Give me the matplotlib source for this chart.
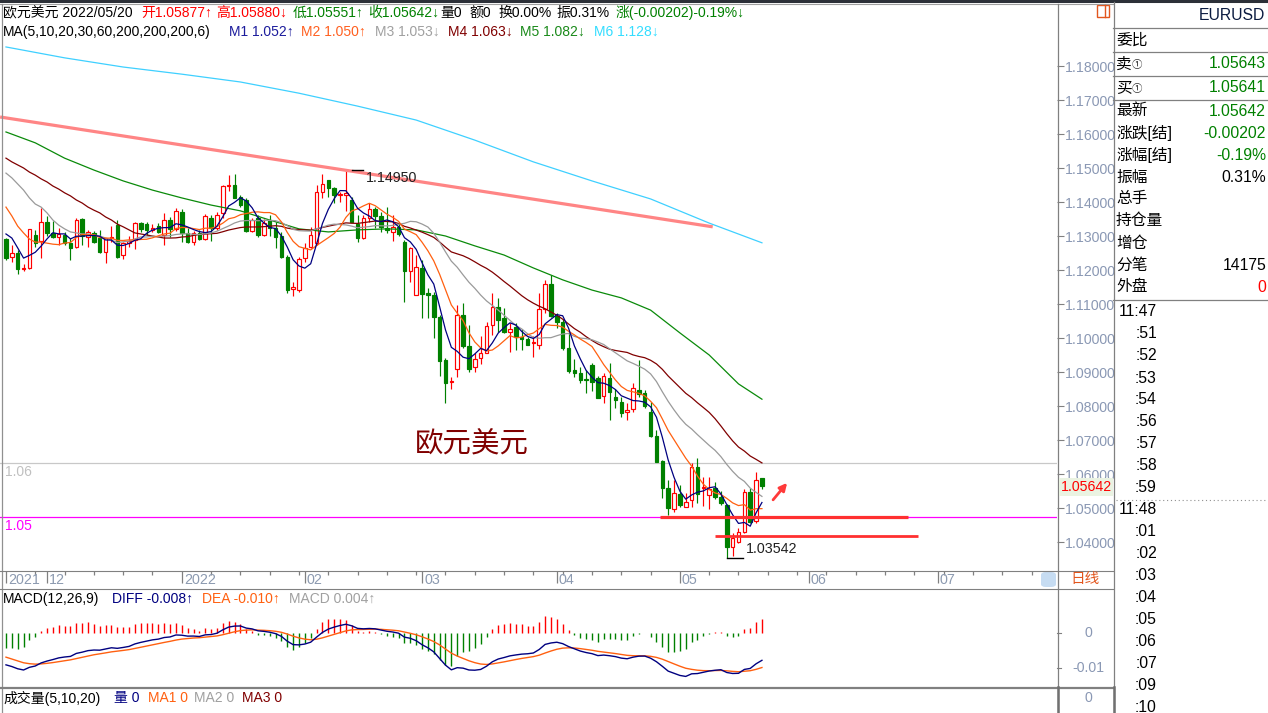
import numpy as np
import pandas as pd
import matplotlib
matplotlib.use("Agg")
import matplotlib.pyplot as plt
from matplotlib.patches import Rectangle, FancyBboxPatch
from matplotlib.lines import Line2D

plt.rcParams['font.family'] = ['Liberation Sans', 'Noto Sans CJK SC', 'DejaVu Sans']

# ---------------- data (EURUSD daily) ----------------
start_date = "2021-11-22"

opens = [
    1.1291, 1.1237, 1.1251, 1.1203, 1.1207, 1.1303, 1.1285, 1.1340, 1.1308, 1.1298,
    1.1303, 1.1280, 1.1267, 1.1349, 1.1298, 1.1308, 1.1293, 1.1254, 1.1293, 1.1332,
    1.1244, 1.1280, 1.1288, 1.1337, 1.1334, 1.1319, 1.1329, 1.1303, 1.1347, 1.1321,
    1.1371, 1.1309, 1.1282, 1.1309, 1.1291, 1.1353, 1.1324, 1.1368, 1.1447, 1.1450,
    1.1415, 1.1406, 1.1315, 1.1353, 1.1303, 1.1347, 1.1324, 1.1300, 1.1238, 1.1144,
    1.1141, 1.1235, 1.1268, 1.1279, 1.1429, 1.1465, 1.1441, 1.1421, 1.1421, 1.1406,
    1.1335, 1.1294, 1.1353, 1.1379, 1.1359, 1.1324, 1.1312, 1.1327, 1.1282, 1.1197,
    1.1127, 1.1206, 1.1132, 1.1127, 1.1062, 1.0935, 1.0871, 1.0909, 1.1068, 1.0976,
    1.0915, 1.0941, 1.0956, 1.1038, 1.1091, 1.1059, 1.1018, 1.1032, 1.1003, 1.0997,
    1.0985, 1.0979, 1.1085, 1.1159, 1.1065, 1.1047, 1.0971, 1.0906, 1.0897, 1.0879,
    1.0921, 1.0882, 1.0829, 1.0882, 1.0826, 1.0812, 1.0782, 1.0791, 1.0847, 1.0838,
    1.0782, 1.0712, 1.0638, 1.0559, 1.0497, 1.0541, 1.0503, 1.0524, 1.0621, 1.0559,
    1.0538, 1.0559, 1.0532, 1.0509, 1.0385, 1.0400, 1.0429, 1.0547, 1.0462, 1.05877,
]
highs = [
    1.1293, 1.1273, 1.1259, 1.1217, 1.1322, 1.1318, 1.1381, 1.1359, 1.1345, 1.1325,
    1.1313, 1.1293, 1.1354, 1.1352, 1.1318, 1.1315, 1.1319, 1.1293, 1.1329, 1.1347,
    1.1283, 1.1300, 1.1342, 1.1342, 1.1342, 1.1334, 1.1337, 1.1368, 1.1356, 1.1382,
    1.1379, 1.1324, 1.1315, 1.1318, 1.1365, 1.1362, 1.1371, 1.1450, 1.1479, 1.1482,
    1.1421, 1.1412, 1.1353, 1.1362, 1.1350, 1.1362, 1.1341, 1.1312, 1.1244, 1.1165,
    1.1238, 1.1279, 1.1327, 1.1450, 1.1482, 1.1465, 1.1444, 1.1429, 1.1495, 1.1415,
    1.1362, 1.1362, 1.1397, 1.1385, 1.1371, 1.1385, 1.1362, 1.1338, 1.1288, 1.1268,
    1.1244, 1.1229, 1.1147, 1.1135, 1.1068, 1.0941, 1.0885, 1.1097, 1.1103, 1.1038,
    1.0956, 1.1006, 1.1047, 1.1132, 1.1118, 1.1088, 1.1044, 1.1044, 1.1026, 1.1003,
    1.1006, 1.1132, 1.1171, 1.1185, 1.1074, 1.1056, 1.1018, 1.0938, 1.0915, 1.0906,
    1.0926, 1.0888, 1.0897, 1.0926, 1.0850, 1.0826, 1.0809, 1.0868, 1.0935, 1.0847,
    1.0812, 1.0729, 1.0641, 1.0582, 1.0582, 1.0568, 1.0544, 1.0632, 1.0647, 1.0591,
    1.0591, 1.0576, 1.0550, 1.0512, 1.0426, 1.0441, 1.0556, 1.0559, 1.0606, 1.05880,
]
lows = [
    1.1229, 1.1224, 1.1188, 1.1197, 1.1202, 1.1268, 1.1236, 1.1300, 1.1293, 1.1273,
    1.1275, 1.1229, 1.1264, 1.1273, 1.1268, 1.1280, 1.1251, 1.1221, 1.1283, 1.1234,
    1.1231, 1.1268, 1.1262, 1.1313, 1.1303, 1.1313, 1.1308, 1.1274, 1.1297, 1.1315,
    1.1282, 1.1279, 1.1274, 1.1288, 1.1288, 1.1285, 1.1318, 1.1353, 1.1432, 1.1412,
    1.1385, 1.1312, 1.1312, 1.1297, 1.1300, 1.1300, 1.1265, 1.1235, 1.1132, 1.1124,
    1.1135, 1.1224, 1.1265, 1.1274, 1.1412, 1.1415, 1.1397, 1.1400, 1.1374, 1.1341,
    1.1282, 1.1291, 1.1341, 1.1324, 1.1312, 1.1309, 1.1285, 1.1300, 1.1106, 1.1165,
    1.1127, 1.1059, 1.1059, 1.1000, 1.0888, 1.0809, 1.0850, 1.0885, 1.0971, 1.0900,
    1.0900, 1.0924, 1.0956, 1.1009, 1.1018, 1.1015, 1.0959, 1.0965, 1.0965, 1.0979,
    1.0944, 1.0968, 1.1074, 1.1062, 1.1029, 1.0965, 1.0897, 1.0885, 1.0868, 1.0838,
    1.0844, 1.0824, 1.0809, 1.0759, 1.0794, 1.0768, 1.0759, 1.0782, 1.0826, 1.0794,
    1.0709, 1.0635, 1.0529, 1.0479, 1.0488, 1.0503, 1.0503, 1.0503, 1.0515, 1.0506,
    1.0497, 1.0526, 1.0509, 1.03542, 1.0360, 1.0397, 1.0426, 1.0456, 1.0456, 1.05551,
]
closes = [
    1.1234, 1.1249, 1.1203, 1.1207, 1.1322, 1.1280, 1.1340, 1.1308, 1.1298, 1.1305,
    1.1280, 1.1266, 1.1347, 1.1300, 1.1312, 1.1283, 1.1254, 1.1293, 1.1298, 1.1237,
    1.1278, 1.1285, 1.1339, 1.1320, 1.1318, 1.1325, 1.1313, 1.1347, 1.1321, 1.1374,
    1.1309, 1.1282, 1.1309, 1.1291, 1.1359, 1.1324, 1.1362, 1.1447, 1.1450, 1.1412,
    1.1391, 1.1315, 1.1347, 1.1303, 1.1338, 1.1324, 1.1297, 1.1238, 1.1141, 1.1150,
    1.1233, 1.1265, 1.1303, 1.1429, 1.1453, 1.1441, 1.1421, 1.1424, 1.1427, 1.1341,
    1.1294, 1.1353, 1.1379, 1.1359, 1.1327, 1.1318, 1.1327, 1.1306, 1.1197, 1.1265,
    1.1209, 1.1130, 1.1127, 1.1062, 1.0932, 1.0868, 1.0874, 1.1068, 1.0976, 1.0909,
    1.0938, 1.0956, 1.1035, 1.1091, 1.1053, 1.1018, 1.1026, 1.1003, 1.0997, 1.0979,
    1.0988, 1.1085, 1.1159, 1.1065, 1.1047, 1.0971, 1.0903, 1.0897, 1.0876, 1.0876,
    1.0871, 1.0824, 1.0888, 1.0841, 1.0818, 1.0780, 1.0788, 1.0853, 1.0835, 1.0800,
    1.0712, 1.0635, 1.0559, 1.0500, 1.0544, 1.0509, 1.0518, 1.0621, 1.0541, 1.0562,
    1.0556, 1.0532, 1.0515, 1.0385, 1.0412, 1.0429, 1.0547, 1.0459, 1.0582, 1.05642,
]

# MA values at the left edge (before enough bars are visible)
ma5_head = [1.1306, 1.1294, 1.1265, 1.1235]
ma10_head = [1.1385, 1.1359, 1.1329, 1.1309, 1.1291, 1.1282, 1.1282, 1.1279, 1.1276]
ma20_head = [1.1485, 1.1471, 1.1453, 1.1435, 1.1412, 1.1394, 1.1385, 1.1368, 1.1347, 1.1332,
             1.1321, 1.1312, 1.1309, 1.1306, 1.1306, 1.1303, 1.1300, 1.1294, 1.1288]
ma30_head = [1.1529, 1.1518, 1.1509, 1.1500, 1.1488, 1.1479, 1.1468, 1.1459, 1.1447, 1.1438,
             1.1427, 1.1418, 1.1406, 1.1397, 1.1385, 1.1376, 1.1368, 1.1356, 1.1347, 1.1335,
             1.1327, 1.1318, 1.1309, 1.1306, 1.1303, 1.1300, 1.1297, 1.1294, 1.1294]
ma60_idx = [0, 5, 10, 15, 20, 25, 30, 35, 40, 45, 50, 55, 60, 65, 70, 75, 80, 85, 90, 95,
            100, 105, 110, 115, 120, 125, 129]
ma60_val = [1.1606, 1.1574, 1.1529, 1.1494, 1.1462, 1.1435, 1.1412, 1.1391, 1.1374, 1.1347,
            1.1321, 1.1312, 1.1318, 1.1321, 1.1318, 1.1300, 1.1271, 1.1244, 1.1206, 1.1171,
            1.1141, 1.1118, 1.1082, 1.1015, 1.0950, 1.0865, 1.0820]
ma200_idx = [0, 10, 20, 30, 40, 50, 60, 70, 80, 90, 100, 110, 120, 129]
ma200_val = [1.1856, 1.1824, 1.1797, 1.1776, 1.1753, 1.1720, 1.1682, 1.1641, 1.1582, 1.1518,
             1.1462, 1.1409, 1.1338, 1.1280]

# MACD state at the first bar (estimated)
ema12_start, ema26_start, dea_start = 1.1394, 1.1485, -0.0069

# drawn objects
trend_x = [-1.0, 120.6]
trend_p = [1.1650, 1.1327]
support1_x, support1_p = [111.6, 153.9], 1.0474
support2_x, support2_p = [121.0, 155.6], 1.0418
hline_gray_p, hline_mag_p = 1.0632, 1.0474
arrow_from, arrow_to = (130.9, 1.0524), (133.3, 1.0574)
high_label, low_label = "1.14950", "1.03542"
title_pos = (79.5, 1.0688)

# ---------------- derived ----------------
n = len(closes)
o, h, l, c = map(np.array, (opens, highs, lows, closes))
xi = np.arange(n)
cs = pd.Series(closes)


def ma_with_head(k, head):
    r = cs.rolling(k).mean().to_numpy()
    r[:k - 1] = head
    return r


ma5 = ma_with_head(5, ma5_head)
ma10 = ma_with_head(10, ma10_head)
ma20 = ma_with_head(20, ma20_head)
ma30 = ma_with_head(30, ma30_head)


def ema_series(vals, span, first):
    a = 2.0 / (span + 1)
    out = np.empty(len(vals))
    e = first
    out[0] = first
    for k in range(1, len(vals)):
        e = e + a * (vals[k] - e)
        out[k] = e
    return out


ema12 = ema_series(c, 12, ema12_start)
ema26 = ema_series(c, 26, ema26_start)
diff = ema12 - ema26
dea = ema_series(diff, 9, dea_start)
hist = 2 * (diff - dea)

all_dates = pd.bdate_range(start_date, periods=182)

# ---------------- figure ----------------
W, H = 1268, 713
fig = plt.figure(figsize=(W / 100, H / 100), dpi=100)
fig.patch.set_facecolor('white')


def add_ax(x0, y0, x1, y1):
    a = fig.add_axes([x0 / W, 1 - y1 / H, (x1 - x0) / W, (y1 - y0) / H])
    a.set_facecolor('none')
    return a


def ftext(x, y, s, color='black', size=10.3, ha='left', va='center', **kw):
    return fig.text(x / W, 1 - y / H, s, color=color, fontsize=size, ha=ha, va=va, **kw)


def fline(xs, ys, color='#808080', lw=0.8, **kw):
    fig.add_artist(Line2D([x / W for x in xs], [1 - y / H for y in ys], color=color, lw=lw, **kw))


RED = '#ff0000'
GREEN = '#008000'
XL = (-1.02, 179.35)

# main price axes
ax = add_ax(0, 4, 1057, 570)
ax.set_xlim(*XL)
ax.set_ylim(1.199412 - 570 / 3400, 1.199412 - 4 / 3400)
for s in ax.spines.values():
    s.set_visible(False)
ax.set_xticks([])
ax.yaxis.tick_right()
levels = np.round(np.arange(1.04, 1.1801, 0.01), 2)
ax.set_yticks(levels)
ax.set_yticklabels([f"{v:.5f}" for v in levels])
ax.tick_params(axis='y', direction='out', length=5, width=0.8, colors='#808080',
               labelcolor='#8a98b4', labelsize=10.2, pad=1)

# horizontal reference lines
ax.axhline(hline_gray_p, color='#c8c8c8', lw=0.9, zorder=1)
ax.axhline(hline_mag_p, color='#ff00ff', lw=0.9, zorder=1)

# candles
up = c >= o
wcol = np.where(up, RED, GREEN)
ax.vlines(xi, l, h, colors=wcol, lw=0.85, zorder=3)
bot = np.minimum(o, c)
bh = np.maximum(np.abs(c - o), 0.00010)
ax.bar(xi[up], bh[up], bottom=bot[up], width=0.6, facecolor='white', edgecolor=RED, lw=0.85, zorder=4)
ax.bar(xi[~up], bh[~up], bottom=bot[~up], width=0.6, facecolor=GREEN, edgecolor=GREEN, lw=0.85, zorder=4)

# moving averages
ax.plot(ma200_idx, ma200_val, color='#3fd0ff', lw=0.9, zorder=5)
ax.plot(ma60_idx, ma60_val, color='#0a8a0a', lw=0.9, zorder=5)
ax.plot(xi, ma30, color='#800000', lw=0.9, zorder=5)
ax.plot(xi, ma20, color='#9a9a9a', lw=0.9, zorder=5)
ax.plot(xi, ma10, color='#ff6010', lw=0.9, zorder=5)
ax.plot(xi, ma5, color='#000080', lw=0.9, zorder=5)

# drawn lines
ax.plot(trend_x, trend_p, color='#ff8585', lw=2.3, zorder=6, solid_capstyle='butt')
ax.plot(support1_x, [support1_p] * 2, color='#ff3030', lw=2.3, zorder=6, solid_capstyle='butt')
ax.plot(support2_x, [support2_p] * 2, color='#ff3030', lw=2.0, zorder=6, solid_capstyle='butt')
ax.annotate('', xy=arrow_to, xytext=arrow_from,
            arrowprops=dict(arrowstyle='-|>', color='#ff3a3a', lw=2.0, mutation_scale=11,
                            shrinkA=0, shrinkB=0), zorder=7)

# high / low markers
ih = int(np.argmax(h))
il = int(np.argmin(l))
ax.plot([ih + 1.0, ih + 3.0], [h[ih]] * 2, color='black', lw=1.0, zorder=6)
ax.text(ih + 3.4, h[ih] - 0.0023, high_label, fontsize=10.3, color='#202020', va='center', ha='left', zorder=7)
ax.plot([il, il + 2.8], [l[il]] * 2, color='black', lw=1.0, zorder=6)
ax.text(il + 3.2, l[il] + 0.0025, low_label, fontsize=10.3, color='#202020', va='center', ha='left', zorder=7)

# big title in chart
ax.text(title_pos[0], title_pos[1], '欧元美元', fontsize=20.5, color='#800000', ha='center', va='center', zorder=7)

# left-edge line labels
ftext(5, 472, '1.06', color='#c0c0c0', size=10)
ftext(5, 526, '1.05', color='#ff00ff', size=10)

# current price box on axis
ftext(1086, 487, '1.05642', color='#ff0000', size=10.2, ha='center',
      bbox=dict(boxstyle='square,pad=0.12', facecolor='#eaf3e2', edgecolor='none'))

# ---------------- date axis strip ----------------
dax = add_ax(0, 570, 1057, 588)
dax.set_xlim(*XL)
dax.set_ylim(588, 570)
dax.axis('off')
month_start = [0] + [k for k in range(1, len(all_dates)) if all_dates[k].month != all_dates[k - 1].month]
for k in month_start:
    if k > XL[1]:
        continue
    dax.vlines(k, 571, 583, color='#808080', lw=0.9)
    d = all_dates[k]
    if k == 0 or d.month == 1:
        lab = str(d.year)
    else:
        lab = f"{d.month:02d}"
    dax.text(k + 0.35, 580, lab, color='#8c9ab0', fontsize=10.3, ha='left', va='center')
for k in range(len(all_dates)):
    if k > XL[1] or k in month_start:
        continue
    if all_dates[k].weekday() == 0:
        dax.vlines(k, 571, 575, color='#808080', lw=0.9)

# scroll thumb and period label
fig.add_artist(FancyBboxPatch((1041 / W, 1 - 587 / H), 15 / W, 15 / H,
                              boxstyle='round,pad=0,rounding_size=0.004', facecolor='#c6dcf2',
                              edgecolor='none', transform=fig.transFigure))
ftext(1085, 579, '日线', color='#e2561e', size=10.5, ha='center')

# ---------------- MACD panel ----------------
max_ = add_ax(0, 588, 1057, 687)
max_.set_xlim(*XL)
max_.set_ylim(-(687 - 633) / 3500, (633 - 588) / 3500)
max_.axis('off')
hcol = np.where(hist >= 0, RED, GREEN)
max_.vlines(xi, 0, hist, colors=hcol, lw=1.0, zorder=2)
max_.plot(xi, dea, color='#ff6010', lw=1.0, zorder=3)
max_.plot(xi, diff, color='#000080', lw=1.0, zorder=4)
ftext(1088, 633, '0', color='#8a98b4', size=10.2, ha='center')
ftext(1088, 668, '-0.01', color='#8a98b4', size=10.2, ha='center')
fline([1057, 1061], [633, 633])
fline([1057, 1061], [668, 668])

# ---------------- frame lines ----------------
fline([0, W], [1, 1], color='#2c3038', lw=2.2)
fline([0, 1113], [4, 4], color='#a0a0a0', lw=0.8)
fline([1.5, 1.5], [4, H], color='#909090', lw=0.9)
fline([1057.5, 1057.5], [4, H], color='#808080', lw=0.9)
fline([1113.5, 1113.5], [2, H], color='#808080', lw=0.9)
fline([0, 1113], [570.5, 570.5], color='#808080', lw=0.8)
fline([0, 1113], [588.5, 588.5], color='#808080', lw=0.8)
fline([0, 1113], [687.5, 687.5], color='#808080', lw=1.6)
fline([1057.5, 1057.5], [687, H], color='#707070', lw=1.8)
fline([1113.5, 1113.5], [687, H], color='#707070', lw=1.8)

# ---------------- header texts ----------------
HS = 10.0
hdr1 = [(3, '欧元美元 2022/05/20', 'black'), (141, '开1.05877↑', '#ff0000'),
        (216, '高1.05880↓', '#ff0000'), (293, '低1.05551↑', '#008000'),
        (368, '收1.05642↓', '#008000'), (440, '量0', 'black'), (469, '额0', 'black'),
        (498, '换0.00%', 'black'), (556, '振0.31%', 'black'),
        (616, '涨(-0.00202)-0.19%↓', '#008000')]
for x, s, col in hdr1:
    ftext(x, 13, s, color=col, size=HS)
hdr2 = [(3, 'MA(5,10,20,30,60,200,200,200,6)', 'black'), (229, 'M1 1.052↑', '#1c1c9c'),
        (301, 'M2 1.050↑', '#ff6020'), (375, 'M3 1.053↓', '#a0a0a0'),
        (448, 'M4 1.063↓', '#800000'), (520, 'M5 1.082↓', '#1a8a1a'),
        (594, 'M6 1.128↓', '#33ddff')]
for x, s, col in hdr2:
    ftext(x, 32, s, color=col, size=HS)

macd_hdr = [(3, 'MACD(12,26,9)', 'black'), (112, 'DIFF -0.008↑', '#000080'),
            (202, 'DEA -0.010↑', '#ff6010'), (289, 'MACD 0.004↑', '#a0a0a0')]
for x, s, col in macd_hdr:
    ftext(x, 599, s, color=col, size=HS)
vol_hdr = [(3, '成交量(5,10,20)', 'black'), (114, '量 0', '#000080'), (148, 'MA1 0', '#ff6010'),
           (194, 'MA2 0', '#a0a0a0'), (242, 'MA3 0', '#800000')]
for x, s, col in vol_hdr:
    ftext(x, 698, s, color=col, size=HS)
ftext(1088, 698, '0', color='#8a98b4', size=10.2, ha='center')

# top-right icon
fig.add_artist(Rectangle((1097 / W, 1 - 17 / H), 12 / W, 12 / H, fill=False, edgecolor='#e2561e',
                         lw=1.0, transform=fig.transFigure))
fline([1105, 1105], [5, 17], color='#e2561e', lw=1.0)

# ---------------- right info panel ----------------
ftext(1265, 16, 'EURUSD', color='#0a1a40', size=11.3, ha='right')
for yy in (28, 52, 76, 100, 300):
    fline([1113, W], [yy, yy], color='#808080', lw=0.9)
info_rows = [(40, '委比', '', 'black'), (111, '最新', '1.05642', '#008000'),
             (133, '涨跌[结]', '-0.00202', '#008000'), (155, '涨幅[结]', '-0.19%', '#008000'),
             (177, '振幅', '0.31%', 'black'), (199, '总手', '', 'black'),
             (221, '持仓量', '', 'black'), (243, '增仓', '', 'black'),
             (265, '分笔', '14175', 'black'), (287, '外盘', '0', '#ff0000')]
for yy, lab, val, col in info_rows:
    ftext(1116, yy, lab, size=11.3)
    if val:
        ftext(1266, yy, val, color=col, size=11.3, ha='right')
for yy, lab, val in [(64, '卖', '1.05643'), (88, '买', '1.05641')]:
    ftext(1116, yy, lab, size=11.3)
    ftext(1132, yy + 1, '①', size=7.5, color='#303030')
    ftext(1266, yy, val, color='#008000', size=11.3, ha='right')

times = ['11:47', ':51', ':52', ':53', ':54', ':56', ':57', ':58', ':59',
         '11:48', ':01', ':02', ':03', ':04', ':05', ':06', ':07', ':09', ':10']
ty = 312
for k, tlabel in enumerate(times):
    if k == 9:
        fline([1116, W], [500, 500], color='#909090', lw=0.8, ls=(0, (1, 2.5)))
        ty = 510
    ftext(1157, ty, tlabel, size=11.3, ha='right')
    ty += 22

fig.savefig('out.png', dpi=100, facecolor='white')
